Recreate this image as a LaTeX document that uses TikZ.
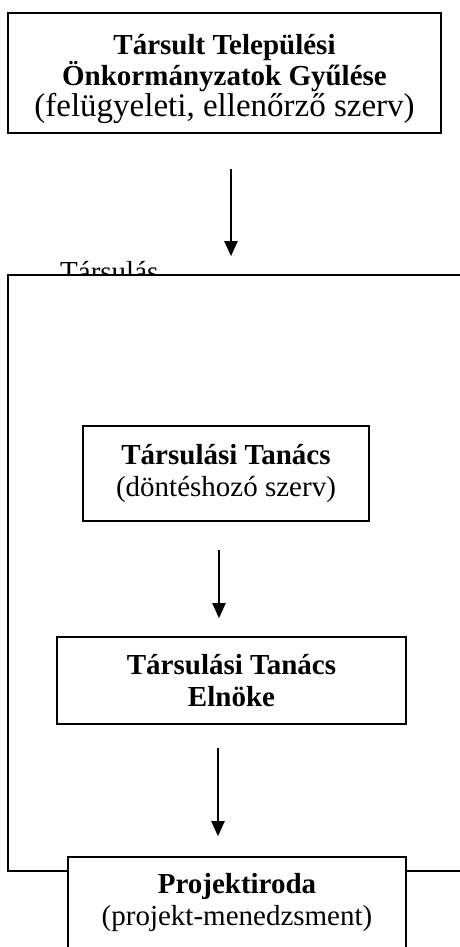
\documentclass[tikz,border=0pt]{standalone}
\usepackage{fontspec}
\setmainfont{Liberation Serif}
\usetikzlibrary{arrows.meta}
\begin{document}
\begin{tikzpicture}[x=1pt,y=-1pt,
  txt/.style={font=\fontsize{29}{32}\selectfont},
  box/.style={draw=black, line width=1.6pt, fill=white, inner sep=0pt, align=center, txt},
  flow/.style={line width=2pt, -{Triangle[length=15pt,width=13pt]}}]
\useasboundingbox (0,0) rectangle (460,947);
\node[txt, anchor=base west, inner sep=0pt] (tarsulas) at (60,281) {Társulás};
\node[draw=black, line width=1.6pt, fill=white, minimum width=472pt, minimum height=596pt, inner sep=0pt] (assoc) at (244,573) {};
\node[box, minimum width=433pt, minimum height=120pt, font=\fontsize{29}{31}\selectfont] (tos) at (224.5,73)
  {\textbf{\rule{0pt}{33pt}Társult Települési}\\\textbf{Önkormányzatok Gyűlése}\\{\fontsize{33}{31}\selectfont (felügyeleti, ellenőrző szerv)}};
\node[box, minimum width=286pt, minimum height=95pt] (tanacs) at (226,473.5)
  {\textbf{Társulási Tanács}\\(döntéshozó szerv)};
\node[box, minimum width=349pt, minimum height=87pt] (elnok) at (231.5,680.5)
  {\textbf{Társulási Tanács}\\\textbf{Elnöke}};
\node[box, minimum width=338pt, minimum height=92pt] (proj) at (237,903)
  {\textbf{Projektiroda}\\(projekt-menedzsment)};
\coordinate (c1) at (231,0);
\coordinate (c2) at (219,0);
\coordinate (c3) at (218,0);
\draw[flow, shorten <=35pt, shorten >=18pt] (tos.south -| c1) -- (assoc.north -| c1);
\draw[flow, shorten <=28pt, shorten >=18pt] (tanacs.south -| c2) -- (elnok.north -| c2);
\draw[flow, shorten <=23pt, shorten >=20pt] (elnok.south -| c3) -- (proj.north -| c3);
\end{tikzpicture}
\end{document}
